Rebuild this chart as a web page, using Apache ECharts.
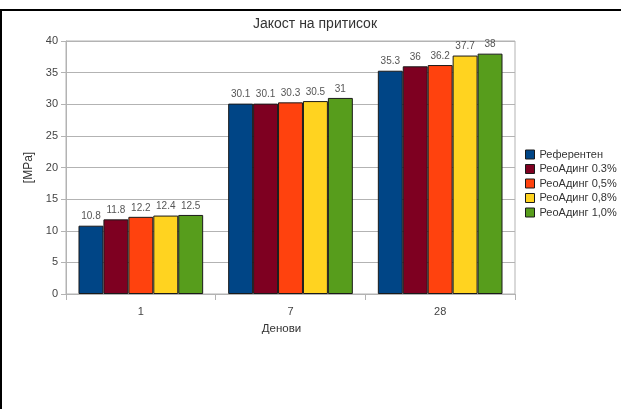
<!DOCTYPE html>
<html>
<head>
<meta charset="utf-8">
<script src="https://cdn.jsdelivr.net/npm/echarts@6/dist/echarts.min.js"></script>
<style>
  html, body { margin: 0; padding: 0; background: #fff; }
  #chart { width: 621px; height: 409px; }
</style>
</head>
<body>
<div id="chart"></div>
<script>
// Compressive strength by curing age
const days = ['1', '7', '28'];
const seriesNames = ['Референтен', 'РеоАдинг 0.3%', 'РеоАдинг 0,5%', 'РеоАдинг 0,8%', 'РеоАдинг 1,0%'];
const referent = [10.8, 30.1, 35.3];
const reo03 = [11.8, 30.1, 36];
const reo05 = [12.2, 30.3, 36.2];
const reo08 = [12.4, 30.5, 37.7];
const reo10 = [12.5, 31, 38];
const yTicks = [0, 5, 10, 15, 20, 25, 30, 35, 40];

const palette = ['#004586', '#7e0021', '#ff420e', '#ffd320', '#579d1c'];
const allValues = [referent, reo03, reo05, reo08, reo10];
const FONT = 'Liberation Sans, Arial, sans-serif';

const chart = echarts.init(document.getElementById('chart'), null, { renderer: 'canvas' });

const series = allValues.map((vals, i) => ({
  name: seriesNames[i],
  type: 'bar',
  data: vals,
  barGap: '0%',
  barCategoryGap: '16.7%',
  itemStyle: { color: palette[i], borderColor: '#1a1a1a', borderWidth: 1 },
  label: {
    show: true,
    position: 'top',
    distance: 4,
    color: '#555',
    fontSize: 10,
    fontFamily: FONT
  },
  emphasis: { disabled: true }
}));

chart.setOption({
  animation: false,
  backgroundColor: '#fff',
  textStyle: { fontFamily: FONT },
  title: {
    text: 'Јакост на притисок',
    left: 310,
    top: 12,
    textAlign: 'center',
    textStyle: { fontSize: 14, fontWeight: 'normal', color: '#333', fontFamily: FONT }
  },
  legend: {
    orient: 'vertical',
    left: 525,
    top: 149,
    padding: 0,
    itemWidth: 9,
    itemHeight: 9,
    itemGap: 3.5,
    icon: 'rect',
    textStyle: { fontSize: 11, color: '#333', fontFamily: FONT },
    itemStyle: { borderColor: '#1a1a1a', borderWidth: 1 },
    data: seriesNames
  },
  grid: { left: 66, top: 41, width: 449, height: 253, containLabel: false,
          show: true, borderColor: '#b3b3b3', borderWidth: 1, backgroundColor: 'transparent' },
  xAxis: {
    type: 'category',
    data: days,
    name: 'Денови',
    nameLocation: 'middle',
    nameGap: 29,
    nameTextStyle: { fontSize: 11.5, color: '#333', fontFamily: FONT, padding: [0, 18, 0, 0] },
    axisLine: { show: true, lineStyle: { color: '#b3b3b3', width: 1 } },
    axisTick: { show: true, length: 6, lineStyle: { color: '#b3b3b3' } },
    axisLabel: { fontSize: 11, color: '#444', margin: 12, fontFamily: FONT },
    splitLine: { show: false }
  },
  yAxis: {
    type: 'value',
    min: yTicks[0],
    max: yTicks[yTicks.length - 1],
    interval: yTicks[1] - yTicks[0],
    name: '[MPa]',
    nameLocation: 'middle',
    nameGap: 31,
    nameRotate: 90,
    nameTextStyle: { fontSize: 12, color: '#333', fontFamily: FONT },
    axisLine: { show: true, lineStyle: { color: '#b3b3b3', width: 1 } },
    axisTick: { show: true, length: 5, lineStyle: { color: '#b3b3b3' } },
    axisLabel: { fontSize: 11, color: '#444', margin: 8, fontFamily: FONT },
    splitLine: { show: true, lineStyle: { color: '#b3b3b3', width: 1 } }
  },
  graphic: [
    { type: 'line', shape: { x1: 0, y1: 10, x2: 621, y2: 10 }, style: { stroke: '#000', lineWidth: 2 } },
    { type: 'line', shape: { x1: 1, y1: 9, x2: 1, y2: 409 }, style: { stroke: '#000', lineWidth: 2 } }
  ],
  series: series
});
</script>
</body>
</html>
